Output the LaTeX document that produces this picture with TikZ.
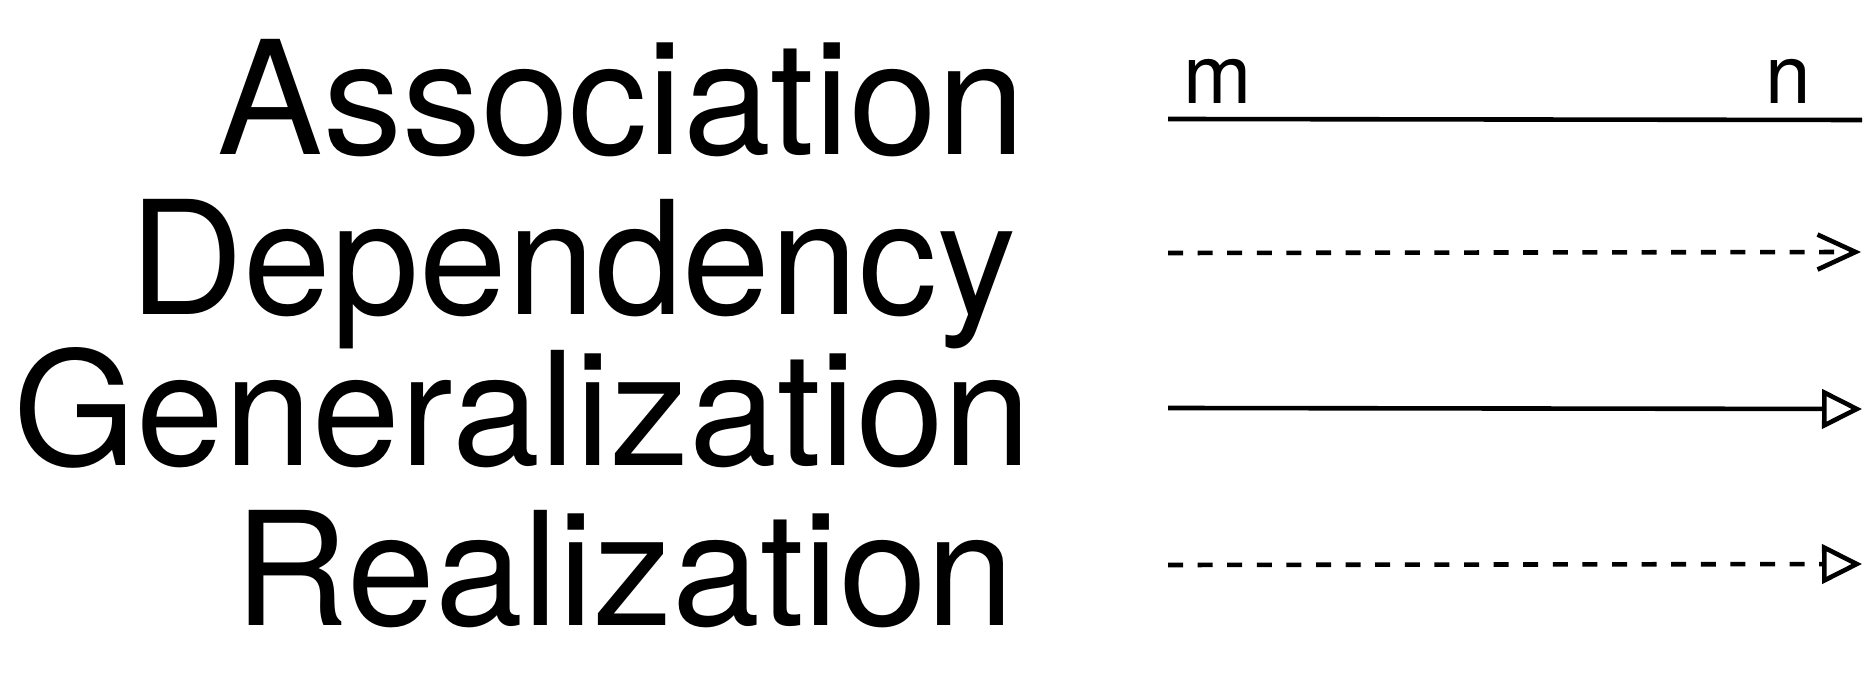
\documentclass[tikz,border=0pt]{standalone}
\usepackage{fontspec}
\setmainfont{TeX Gyre Heros}
\usetikzlibrary{arrows.meta}

\begin{document}
\begin{tikzpicture}[x=0.5pt, y=-0.5pt,
    kind/.style={anchor=base east, inner sep=0pt, font=\fontsize{79}{80}\selectfont},
    mult/.style={anchor=base west, inner sep=0pt, font=\fontsize{41}{42}\selectfont},
    rel/.style={line width=2.3pt},
    dashrel/.style={rel, dash pattern=on 7.5pt off 7.3pt}]

\useasboundingbox (0,0) rectangle (1876,673);

%%%%%%%%%%%%%%%%%%%%%%%%%%%%%%%%%%%%%%%%%%%%%%%%%%%%%%%%%%%%%%%%
% Labels
%%%%%%%%%%%%%%%%%%%%%%%%%%%%%%%%%%%%%%%%%%%%%%%%%%%%%%%%%%%%%%%%

\node [kind] (assoc) at (1026,155) {Association};
\node [kind] (depend) at (1017,315) {Dependency};
\node [kind] (general) at (1032,466) {Generalization};
\node [kind] (realize) at (1015,626) {Realization};

%%%%%%%%%%%%%%%%%%%%%%%%%%%%%%%%%%%%%%%%%%%%%%%%%%%%%%%%%%%%%%%%
% Relations
%%%%%%%%%%%%%%%%%%%%%%%%%%%%%%%%%%%%%%%%%%%%%%%%%%%%%%%%%%%%%%%%

% end points
\coordinate (assocL) at (1168,119);
\coordinate (assocR) at (1862,120);
\coordinate (dependL) at (1168,253);
\coordinate (dependR) at (1861,252);
\coordinate (generalL) at (1168,408);
\coordinate (generalR) at (1862,409);
\coordinate (realizeL) at (1168,565);
\coordinate (realizeR) at (1862,564);

% Association
\draw [rel] (assocL) to (assocR);
    \node [mult] (mlabel) at (1183,104) {m};
    \node [mult] (nlabel) at (1765,104) {n};

% Dependency
\draw [dashrel, -{Straight Barb[length=19pt, width=17.5pt]}] (dependL) to (dependR);

% Generalization
\draw [rel, -{Triangle[open, length=20pt, width=19.5pt]}] (generalL) to (generalR);

% Realization
\draw [dashrel, -{Triangle[open, length=20pt, width=19.5pt]}] (realizeL) to (realizeR);

\end{tikzpicture}
\end{document}
